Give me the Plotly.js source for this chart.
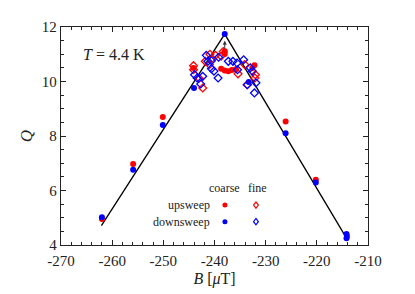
<!DOCTYPE html>
<html>
<head>
<meta charset="utf-8">
<script src="https://cdn.plot.ly/plotly-3.0.1.min.js"></script>
<style>html,body{margin:0;padding:0;background:#fff;}#chart{width:415px;height:294px;}</style>
</head>
<body>
<div id="chart"></div>
<script>
// Coarse upsweep (red filled dots)
const coarseUpX = [-262.0, -255.9, -250.1, -244.1, -238.0, -238.0, -238.7, -238.0, -237.3, -236.6, -235.8, -232.6, -232.2, -226.1, -220.2, -214.1];
const coarseUpY = [4.95, 6.97, 8.70, 10.50, 11.11, 11.01, 10.47, 10.40, 10.38, 10.42, 10.45, 10.50, 10.60, 8.53, 6.39, 4.32];
// Coarse downsweep (blue filled dots)
const coarseDownX = [-262.0, -255.9, -250.1, -244.0, -238.0, -233.3, -226.1, -220.2, -214.2, -214.2];
const coarseDownY = [5.02, 6.76, 8.40, 9.76, 11.74, 9.98, 8.10, 6.29, 4.40, 4.25];
// Fine upsweep (red open diamonds)
const fineUpX = [-244.1, -244.1, -242.3, -243.0, -241.8, -240.9, -240.5, -241.0, -239.8, -238.7, -238.3, -235.4, -234.1, -233.6, -232.1, -232.0];
const fineUpY = [10.58, 10.43, 9.76, 10.12, 10.74, 11.00, 10.84, 10.62, 10.96, 10.93, 11.10, 10.28, 10.62, 9.88, 10.13, 10.25];
// Fine downsweep (blue open diamonds)
const fineDownX = [-243.9, -243.4, -242.3, -242.7, -241.6, -241.3, -240.6, -240.6, -240.1, -239.3, -239.2, -237.3, -236.4, -235.6, -235.5, -234.3, -233.0, -232.6, -231.9, -233.6, -232.2];
const fineDownY = [10.25, 10.13, 10.19, 9.91, 10.96, 10.74, 10.76, 10.47, 10.38, 10.13, 10.89, 10.74, 10.74, 10.68, 10.43, 10.80, 10.50, 10.38, 9.95, 9.88, 9.58];
// Guide line
const lineX = [-262.1, -238.0, -214.0];
const lineY = [4.71, 11.74, 4.19];
// Arrow toward peak
const arrowX = -238.0;
const arrowFromY = 11.15;
const arrowToY = 11.50;
// Tick labels
const xTickVals = [-270, -260, -250, -240, -230, -220, -210];
const xTickText = ['-270', '-260', '-250', '-240', '-230', '-220', '-210'];
const yTickVals = [4, 6, 8, 10, 12];
const yTickText = ['4', '6', '8', '10', '12'];

const RED = 'rgb(255,0,0)';
const BLUE = 'rgb(0,0,255)';
const FONT = 'Liberation Serif, Times New Roman, serif';

const traces = [
  {x: lineX, y: lineY, mode: 'lines', line: {color: 'black', width: 1.3}, hoverinfo: 'skip'},
  {x: coarseUpX, y: coarseUpY, mode: 'markers', marker: {symbol: 'circle', size: 6, color: RED}},
  {x: coarseDownX, y: coarseDownY, mode: 'markers', marker: {symbol: 'circle', size: 6, color: BLUE}},
  {x: fineUpX, y: fineUpY, mode: 'markers', marker: {symbol: 'diamond-open', size: 6, color: RED, line: {width: 1.3, color: RED}}},
  {x: fineDownX, y: fineDownY, mode: 'markers', marker: {symbol: 'diamond-open', size: 6, color: BLUE, line: {width: 1.3, color: BLUE}}}
];

const legDotX = 0.534, legDiaX = 0.635, rowUp = 0.183, rowDown = 0.107;
function dot(x, y, c) {
  return {type: 'circle', xref: 'paper', yref: 'paper', xsizemode: 'pixel', ysizemode: 'pixel',
    xanchor: x, yanchor: y, x0: -2.5, x1: 2.5, y0: -2.5, y1: 2.5, fillcolor: c, line: {width: 0}};
}
function dia(x, y, c) {
  return {type: 'path', xref: 'paper', yref: 'paper', xsizemode: 'pixel', ysizemode: 'pixel',
    xanchor: x, yanchor: y, path: 'M 0 3.2 L 2.4 0 L 0 -3.2 L -2.4 0 Z', line: {color: c, width: 1.2}};
}

const layout = {
  width: 415, height: 294,
  margin: {l: 61, r: 47, t: 27, b: 49},
  paper_bgcolor: 'white', plot_bgcolor: 'white',
  showlegend: false,
  font: {family: FONT, size: 14, color: '#222'},
  xaxis: {
    range: [-270, -210], tickmode: 'array', tickvals: xTickVals, ticktext: xTickText,
    showgrid: false, zeroline: false, showline: true, linecolor: '#222', linewidth: 1.3, mirror: 'allticks',
    ticks: 'inside', ticklen: 5, tickcolor: '#222', tickwidth: 1, ticklabelstandoff: 2,
    minor: {dtick: 2, tick0: -270, ticks: 'inside', ticklen: 3, tickcolor: '#222', tickwidth: 1},
    tickfont: {family: FONT, size: 15, color: '#222'},
    title: {text: '<i>B</i> [<i>μ</i>T]', font: {family: FONT, size: 16, color: '#222'}, standoff: 4}
  },
  yaxis: {
    range: [4, 12], tickmode: 'array', tickvals: yTickVals, ticktext: yTickText,
    showgrid: false, zeroline: false, showline: true, linecolor: '#222', linewidth: 1.3, mirror: 'allticks',
    ticks: 'inside', ticklen: 5, tickcolor: '#222', tickwidth: 1,
    minor: {dtick: 0.5, tick0: 4, ticks: 'inside', ticklen: 3, tickcolor: '#222', tickwidth: 1},
    tickfont: {family: FONT, size: 15, color: '#222'},
    title: {text: '<i>Q</i>', font: {family: FONT, size: 17, color: '#222'}, standoff: 4}
  },
  annotations: [
    {xref: 'paper', yref: 'paper', x: 0.064, y: 0.876, xanchor: 'left', yanchor: 'middle', showarrow: false,
      text: '<i>T</i> = 4.4 K', font: {family: FONT, size: 16, color: '#222'}},
    {xref: 'paper', yref: 'paper', x: legDotX, y: 0.261, xanchor: 'center', yanchor: 'middle', showarrow: false,
      text: 'coarse', font: {family: FONT, size: 12, color: '#222'}},
    {xref: 'paper', yref: 'paper', x: legDiaX + 0.005, y: 0.261, xanchor: 'center', yanchor: 'middle', showarrow: false,
      text: 'fine', font: {family: FONT, size: 12, color: '#222'}},
    {xref: 'paper', yref: 'paper', x: 0.493, y: rowUp, xanchor: 'right', yanchor: 'middle', showarrow: false,
      text: 'upsweep', font: {family: FONT, size: 12, color: '#222'}},
    {xref: 'paper', yref: 'paper', x: 0.493, y: rowDown, xanchor: 'right', yanchor: 'middle', showarrow: false,
      text: 'downsweep', font: {family: FONT, size: 12, color: '#222'}},
    {xref: 'x', yref: 'y', axref: 'x', ayref: 'y', x: arrowX, y: arrowToY, ax: arrowX, ay: arrowFromY,
      text: '', showarrow: true, arrowhead: 2, arrowsize: 0.8, arrowwidth: 1, arrowcolor: '#333'}
  ],
  shapes: [dot(legDotX, rowUp, RED), dia(legDiaX, rowUp, RED), dot(legDotX, rowDown, BLUE), dia(legDiaX, rowDown, BLUE)]
};

Plotly.newPlot('chart', traces, layout, {displayModeBar: false, staticPlot: true});
</script>
</body>
</html>
